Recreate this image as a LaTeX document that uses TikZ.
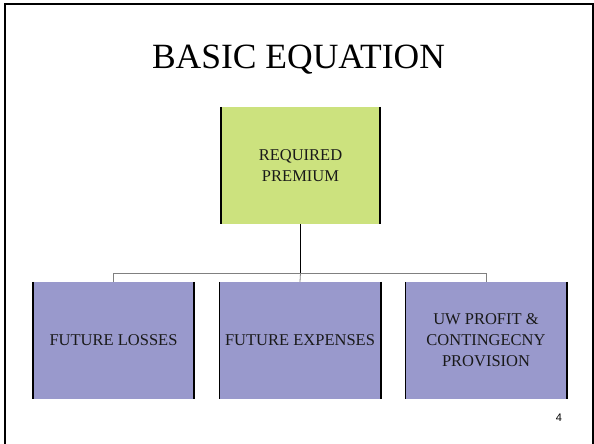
\documentclass[tikz,border=0pt]{standalone}
\usepackage{fontspec}
\setmainfont{Liberation Serif}
\newfontfamily\numfont{Liberation Sans}
\definecolor{boxgreen}{RGB}{204,226,126}
\definecolor{boxpurple}{RGB}{153,153,204}
\definecolor{linegray}{RGB}{128,128,128}
\begin{document}
\begin{tikzpicture}[x=1pt,y=-1pt,
  chartbox/.style={minimum width=161pt,minimum height=117pt,inner sep=0pt,align=center,font=\fontsize{16.5}{21}\selectfont,text=black!90},
  sideedge/.style={line width=1.6pt,black},
  conn/.style={linegray,line width=0.8pt}]
\useasboundingbox (0,0) rectangle (594,444);
% frame
\draw[line width=2pt,black] (5,450) -- (5,4) -- (593,4) -- (593,450);
% title
\node (title) at (298.5,60) {\fontsize{35.5}{40}\selectfont BASIC EQUATION};
% boxes
\node[chartbox,fill=boxgreen,minimum height=117pt,minimum width=159pt] (top) at (300.5,165.5) {REQUIRED\\PREMIUM};
\node[chartbox,fill=boxpurple] (b1) at (113.5,340.5) {FUTURE LOSSES};
\node[chartbox,fill=boxpurple] (b2) at (300,340.5) {FUTURE EXPENSES};
\node[chartbox,fill=boxpurple] (b3) at (486,340.5) {UW PROFIT \&\\CONTINGECNY\\PROVISION};
\foreach \n in {top,b1,b2,b3}{
  \draw[sideedge] (\n.north west) -- (\n.south west);
  \draw[sideedge] (\n.north east) -- (\n.south east);
}
% connectors
\coordinate (hub) at (top.south |- 0,273);
\draw[black,line width=0.8pt] (top.south) -- (hub);
\draw[conn] (b1.north) -- (b1.north |- hub) -- (b3.north |- hub) -- (b3.north);
\draw[conn] (hub) -- (b2.north);
% page number
\node (num) at (559,418) {\numfont\fontsize{11}{13}\selectfont 4};
\end{tikzpicture}
\end{document}
